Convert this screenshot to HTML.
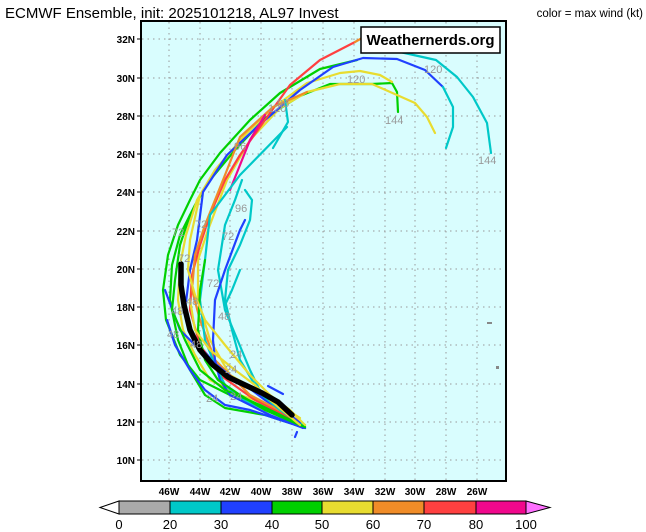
<!DOCTYPE html>
<html><head><meta charset="utf-8"><style>
body{margin:0;background:#fff}
svg{display:block}
text{font-family:"Liberation Sans",sans-serif}
</style></head><body>
<svg width="646" height="532" viewBox="0 0 646 532" xmlns="http://www.w3.org/2000/svg">
<text x="5" y="18" font-size="15">ECMWF Ensemble, init: 2025101218, AL97 Invest</text>
<text x="643" y="17" font-size="11.5" text-anchor="end">color = max wind (kt)</text>
<rect x="141" y="21" width="365" height="460" fill="#d9fdfe" stroke="#000" stroke-width="2"/>
<g stroke="#999" stroke-width="1" stroke-dasharray="1.5,4">
<line x1="169" y1="22" x2="169" y2="480"/><line x1="200" y1="22" x2="200" y2="480"/><line x1="230" y1="22" x2="230" y2="480"/><line x1="261" y1="22" x2="261" y2="480"/><line x1="292" y1="22" x2="292" y2="480"/><line x1="323" y1="22" x2="323" y2="480"/><line x1="354" y1="22" x2="354" y2="480"/><line x1="385" y1="22" x2="385" y2="480"/><line x1="415" y1="22" x2="415" y2="480"/><line x1="446" y1="22" x2="446" y2="480"/><line x1="477" y1="22" x2="477" y2="480"/>
<line x1="142" y1="39" x2="505" y2="39"/><line x1="142" y1="78" x2="505" y2="78"/><line x1="142" y1="116" x2="505" y2="116"/><line x1="142" y1="154" x2="505" y2="154"/><line x1="142" y1="192" x2="505" y2="192"/><line x1="142" y1="231" x2="505" y2="231"/><line x1="142" y1="269" x2="505" y2="269"/><line x1="142" y1="307" x2="505" y2="307"/><line x1="142" y1="345" x2="505" y2="345"/><line x1="142" y1="384" x2="505" y2="384"/><line x1="142" y1="422" x2="505" y2="422"/><line x1="142" y1="460" x2="505" y2="460"/>
</g>
<g font-size="10" font-weight="bold" text-anchor="end">
<text x="135" y="43">32N</text><text x="135" y="82">30N</text><text x="135" y="120">28N</text><text x="135" y="158">26N</text><text x="135" y="196">24N</text><text x="135" y="235">22N</text><text x="135" y="273">20N</text><text x="135" y="311">18N</text><text x="135" y="349">16N</text><text x="135" y="388">14N</text><text x="135" y="426">12N</text><text x="135" y="464">10N</text>
</g>
<g stroke="#000" stroke-width="1"><line x1="137" y1="39" x2="141" y2="39"/><line x1="137" y1="78" x2="141" y2="78"/><line x1="137" y1="116" x2="141" y2="116"/><line x1="137" y1="154" x2="141" y2="154"/><line x1="137" y1="192" x2="141" y2="192"/><line x1="137" y1="231" x2="141" y2="231"/><line x1="137" y1="269" x2="141" y2="269"/><line x1="137" y1="307" x2="141" y2="307"/><line x1="137" y1="345" x2="141" y2="345"/><line x1="137" y1="384" x2="141" y2="384"/><line x1="137" y1="422" x2="141" y2="422"/><line x1="137" y1="460" x2="141" y2="460"/></g>
<g font-size="10" font-weight="bold" text-anchor="middle">
<text x="169" y="495">46W</text><text x="200" y="495">44W</text><text x="230" y="495">42W</text><text x="261" y="495">40W</text><text x="292" y="495">38W</text><text x="323" y="495">36W</text><text x="354" y="495">34W</text><text x="385" y="495">32W</text><text x="415" y="495">30W</text><text x="446" y="495">28W</text><text x="477" y="495">26W</text>
</g>
<g fill="none" stroke-width="2.2" stroke-linejoin="round" stroke-linecap="round">
<!-- lower bundle -->
<polyline stroke="#00d000" points="305,425 270,410 230,395 200,380 180,355 166,320 163,290 168,255 178,225 190,200 200,180 220,153 250,120 280,93 320,69 357,60"/>
<polyline stroke="#00d000" points="305,428 265,415 225,408 205,395 190,370 178,340 170,300 172,265 180,235 195,205 210,180 235,150 265,118 300,96 330,84 372,84 392,83 397,92 398,112"/>
<polyline stroke="#e8dc30" points="303,424 270,405 240,395 210,380 195,355 183,330 178,300 180,265 186,235 197,200 215,170 245,135 270,110 307,83 340,73 360,71 380,75 392,82"/>
<polyline stroke="#e8dc30" points="300,418 260,392 230,375 210,340 198,300 198,260 208,230 227,180 250,140 280,108 307,92 340,84 372,84 415,103 427,117 435,133"/>
<polyline stroke="#2040ff" points="302,424 265,400 245,385 220,370 195,340 185,310 190,270 197,240 203,192 227,155 257,127 300,90 333,67 363,58 397,59 425,70 443,87"/>
<polyline stroke="#ff4040" points="302,424 255,400 220,375 200,345 190,310 192,275 200,245 210,215 225,180 240,155 265,120 290,85 320,60 355,42"/>
<polyline stroke="#f08c28" points="355,42 362,38"/>
<polyline stroke="#f08c28" points="298,420 250,395 215,360 200,320 192,290 195,255 205,225 225,175 240,137 273,107 307,92"/>
<polyline stroke="#f0088c" points="230,190 250,140 265,115"/>
<polyline stroke="#00c8c8" points="443,87 453,107 453,127 446,148"/>
<polyline stroke="#00c8c8" points="400,52 436,60 457,77 473,97 487,123 491,153"/>
<polyline stroke="#00c8c8" points="305,428 270,412 240,398 225,385 215,365 205,340 200,300 205,260 210,215 240,175 287,127"/>
<polyline stroke="#00c8c8" points="303,425 275,405 255,385 240,360 232,330 225,300 228,270 240,245 250,220 252,200 245,190"/>
<polyline stroke="#00c8c8" points="305,427 280,410 262,395 250,370 225,310 218,270 225,225 235,200 242,180"/>
<polyline stroke="#00c8c8" points="273,148 288,122 285,100"/>
<polyline stroke="#2040ff" points="305,428 280,420 250,410 225,405 205,390 190,370 175,345 167,320"/>
<polyline stroke="#2040ff" points="300,423 265,395 235,380 205,355 180,330 165,290"/>
<polyline stroke="#2040ff" points="303,428 270,415 250,405 230,395 220,380 215,360 213,340 215,300 225,270 240,230 245,220"/>
<polyline stroke="#2040ff" points="283,394 268,386"/>
<polyline stroke="#00d000" points="305,427 260,405 225,390 200,370 185,340 172,310 175,280 180,245 190,215"/>
<polyline stroke="#00d000" points="302,426 265,410 240,395 218,380 205,360 198,330 200,290 205,260"/>
<polyline stroke="#e8dc30" points="300,425 270,400 255,385 235,370 210,350 195,330 190,300"/>
<polyline stroke="#e8dc30" points="305,425 290,410 270,395 250,375 225,345 205,320 195,295 188,270 190,240 200,195"/>
<polyline stroke="#2040ff" points="297,432 295,437"/>
<polyline stroke="#00c8c8" points="240,270 232,290 225,305"/>
</g>
<polyline fill="none" stroke="#000" stroke-width="5.5" stroke-linejoin="round" stroke-linecap="round" points="181,264 181,285 184,305 190,330 200,350 213,365 228,377 245,385 262,393 278,402 292,415"/>
<g font-size="11" fill="#999">
<text x="234" y="150">96</text><text x="277" y="107">96</text><text x="268" y="112">120</text><text x="347" y="83">120</text><text x="424" y="73">120</text><text x="385" y="124">144</text><text x="478" y="164">144</text>
<text x="235" y="212">96</text><text x="195" y="228">72</text><text x="172" y="236">72</text><text x="222" y="240">72</text><text x="178" y="262">72</text><text x="207" y="287">72</text>
<text x="186" y="305">48</text><text x="171" y="315">48</text><text x="218" y="320">48</text><text x="167" y="338">48</text><text x="190" y="348">48</text><text x="230" y="358">24</text><text x="225" y="373">24</text><text x="206" y="402">24</text><text x="230" y="400">24</text>
</g>
<g fill="#888"><rect x="487" y="322" width="5" height="2"/><rect x="496" y="366" width="3" height="3"/></g>
<rect x="361" y="27" width="139" height="26" fill="#fff" stroke="#000" stroke-width="1.5"/>
<text x="430.5" y="45" font-family="Liberation Mono,monospace" font-weight="bold" font-size="15" text-anchor="middle">Weathernerds.org</text>
<g stroke="#000" stroke-width="1">
<polygon points="100,507.5 119,501 119,514" fill="#fff"/>
<rect x="119" y="501" width="51" height="13" fill="#aaa"/>
<rect x="170" y="501" width="51" height="13" fill="#00c8c8"/>
<rect x="221" y="501" width="51" height="13" fill="#2040ff"/>
<rect x="272" y="501" width="50" height="13" fill="#00d000"/>
<rect x="322" y="501" width="51" height="13" fill="#e8dc30"/>
<rect x="373" y="501" width="51" height="13" fill="#f08c28"/>
<rect x="424" y="501" width="52" height="13" fill="#ff4040"/>
<rect x="476" y="501" width="50" height="13" fill="#f0088c"/>
<polygon points="526,501 550,507.5 526,514" fill="#ff70ff"/>
</g>
<g font-size="13" text-anchor="middle">
<text x="119" y="529">0</text><text x="170" y="529">20</text><text x="221" y="529">30</text><text x="272" y="529">40</text><text x="322" y="529">50</text><text x="373" y="529">60</text><text x="424" y="529">70</text><text x="476" y="529">80</text><text x="526" y="529">100</text>
</g>
</svg>
</body></html>
